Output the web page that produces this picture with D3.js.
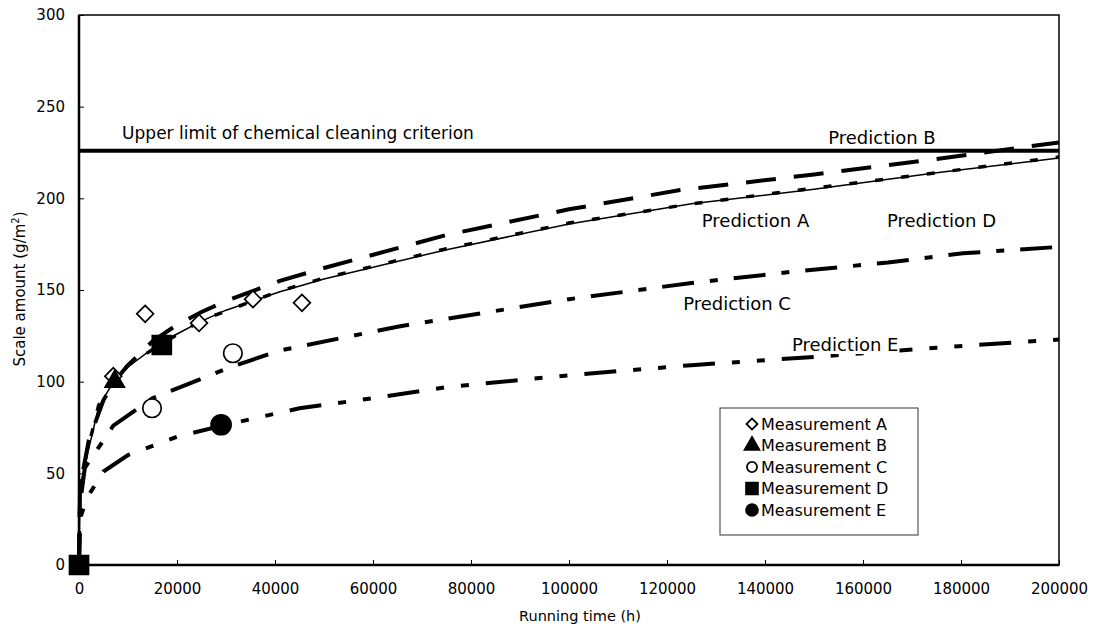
<!DOCTYPE html>
<html>
<head>
<meta charset="utf-8">
<script src="https://cdn.jsdelivr.net/npm/d3@7"></script>
<style>
  body { margin: 0; background: #fff; }
  text { font-family: "DejaVu Sans", sans-serif; fill: #000; }
</style>
</head>
<body>
<script>
// tick values
const xTicks = [0, 20000, 40000, 60000, 80000, 100000, 120000, 140000, 160000, 180000, 200000];
const yTicks = [0, 50, 100, 150, 200, 250, 300];

// prediction curves (running time h, scale g/m2)
const timeA = [0, 200, 500, 1500, 4000, 7000, 10000, 15000, 20000, 25000, 30000, 41000, 50000, 75000, 100000, 125000, 150000, 175000, 200000];
const predA = [0, 40, 46, 58, 86, 100, 108, 118, 126, 133, 139, 149, 156, 172, 186, 197, 205, 214, 222];

const timeB = [0, 200, 500, 2000, 5000, 7500, 10000, 15000, 20000, 25000, 30000, 41000, 50000, 75000, 100000, 122700, 150000, 175000, 200000];
const predB = [0, 41, 47, 68, 90, 101, 109, 122, 131, 138, 144, 155, 162, 180, 194, 204.5, 213, 221.5, 230.5];

const timeC = [0, 200, 1200, 7000, 15000, 31000, 41000, 65000, 100000, 125000, 145700, 165100, 180400, 200000];
const predC = [0, 33, 53, 76, 91, 108, 117, 130, 145, 153.8, 160, 165, 170, 173.5];

const timeD = [0, 200, 500, 1500, 4000, 7000, 10000, 16500, 25000, 41000, 50000, 75000, 100000, 125000, 150000, 175000, 200000];
const predD = [0, 40, 47, 60, 87, 101, 109, 120, 133.5, 149.5, 156.5, 172.5, 186.5, 197, 205.5, 214, 222.5];

const timeE = [0, 200, 1500, 5000, 10000, 20000, 30000, 45000, 60000, 75000, 100000, 125000, 150000, 175000, 200000];
const predE = [0, 25, 36, 51, 60, 70, 76.5, 85.5, 91, 97, 103.5, 109, 113.5, 118.5, 123];

// measurements
const measTimeA = [7000, 13500, 24500, 35500, 45500];
const measA = [103, 137, 132, 145, 143];
const measTimeB = [7300];
const measB = [100];
const measTimeC = [14900, 31400];
const measC = [85.5, 115.5];
const measTimeD = [0, 16900];
const measD = [0, 120];
const measTimeE = [29000];
const measE = [76.5];

const upperLimit = 226;

// text labels in data units
const labelNames = ["Prediction B", "Prediction A", "Prediction D", "Prediction C", "Prediction E"];
const labelTime = [152900, 127100, 164900, 123300, 145500];
const labelValue = [229.6, 184.4, 184.4, 139, 116.7];

const legendNames = ["Measurement A", "Measurement B", "Measurement C", "Measurement D", "Measurement E"];

// chart size
const width = 1101;
const height = 628;
const plotLeft = 79, plotRight = 1059, plotTop = 15, plotBottom = 565;

const xScale = d3.scaleLinear().domain([0, 200000]).range([plotLeft, plotRight]);
const yScale = d3.scaleLinear().domain([0, 300]).range([plotBottom, plotTop]);

const svg = d3.select("body")
    .append("svg")
    .attr("width", width)
    .attr("height", height);

// frame
svg.append("rect")
    .attr("x", plotLeft).attr("y", plotTop)
    .attr("width", plotRight - plotLeft).attr("height", plotBottom - plotTop)
    .attr("fill", "none").attr("stroke", "#000").attr("stroke-width", 1.5);

// axes, ticks pointing inward
const xAxis = svg.append("g")
    .attr("transform", "translate(0," + plotBottom + ")")
    .call(d3.axisBottom(xScale).tickValues(xTicks).tickSize(-5).tickPadding(18).tickFormat(d3.format("d")));
const yAxis = svg.append("g")
    .attr("transform", "translate(" + plotLeft + ",0)")
    .call(d3.axisLeft(yScale).tickValues(yTicks).tickSize(-5).tickPadding(14));

[xAxis, yAxis].forEach(g => {
    g.select(".domain").remove();
    g.selectAll("line").attr("stroke", "#000").attr("stroke-width", 1);
    g.selectAll("text").style("font-family", "DejaVu Sans").style("font-size", "15px").attr("fill", "#000");
});

svg.append("line")
    .attr("x1", plotLeft).attr("x2", plotLeft).attr("y1", plotTop).attr("y2", plotBottom)
    .attr("stroke", "#000").attr("stroke-width", 2.5);
svg.append("line")
    .attr("x1", plotLeft).attr("x2", plotRight).attr("y1", plotBottom).attr("y2", plotBottom)
    .attr("stroke", "#000").attr("stroke-width", 2.5);

// axis titles
svg.append("text")
    .attr("x", 580).attr("y", 621)
    .attr("text-anchor", "middle")
    .style("font-size", "14.5px")
    .text("Running time (h)");

const yTitle = svg.append("text")
    .attr("transform", "translate(25," + 289 + ") rotate(-90)")
    .attr("text-anchor", "middle")
    .style("font-size", "15px");
yTitle.append("tspan").text("Scale amount (g/m");
yTitle.append("tspan").attr("dy", -6).style("font-size", "10px").text("2");
yTitle.append("tspan").attr("dy", 6).text(")");

// upper limit
svg.append("line")
    .attr("x1", xScale(0)).attr("x2", xScale(200000))
    .attr("y1", yScale(upperLimit)).attr("y2", yScale(upperLimit))
    .attr("stroke", "#000").attr("stroke-width", 4);
svg.append("text")
    .attr("x", xScale(8800)).attr("y", yScale(232.4))
    .style("font-size", "17px")
    .text("Upper limit of chemical cleaning criterion");

// prediction lines
const line = d3.line().x(d => xScale(d[0])).y(d => yScale(d[1]));
const curves = [
    { t: timeE, v: predE, w: 4, dash: "32,17,8,17,8,17" },
    { t: timeC, v: predC, w: 4, dash: "32,16,8,16" },
    { t: timeB, v: predB, w: 4, dash: "30,18" },
    { t: timeA, v: predA, w: 1.5, dash: null },
    { t: timeD, v: predD, w: 3.5, dash: "8,18" }
];
curves.forEach(c => {
    svg.append("path")
        .datum(c.t.map((t, i) => [t, c.v[i]]))
        .attr("d", line)
        .attr("fill", "none")
        .attr("stroke", "#000")
        .attr("stroke-width", c.w)
        .attr("stroke-dasharray", c.dash);
});

// prediction labels, white box behind like the text boxes
const labels = svg.selectAll(".plabel")
    .data(labelNames)
    .enter()
    .append("g")
    .attr("class", "plabel");
labels.append("text")
    .attr("x", (d, i) => xScale(labelTime[i]))
    .attr("y", (d, i) => yScale(labelValue[i]))
    .style("font-size", "18px")
    .text(d => d);
labels.each(function() {
    const g = d3.select(this);
    const box = g.select("text").node().getBBox();
    g.insert("rect", "text")
        .attr("x", box.x - 1).attr("y", box.y + 1)
        .attr("width", box.width + 2).attr("height", box.height - 2)
        .attr("fill", "#fff");
});

// marker shapes
const markerDefs = [
    { type: d3.symbolSquare, size: 140, rot: 45, fill: "#fff" },
    { type: d3.symbolTriangle, size: 160, rot: 0, fill: "#000" },
    { type: d3.symbolCircle, size: 270, rot: 0, fill: "#fff" },
    { type: d3.symbolSquare, size: 360, rot: 0, fill: "#000" },
    { type: d3.symbolCircle, size: 314, rot: 0, fill: "#000" }
];
const measures = [
    [measTimeA, measA], [measTimeB, measB], [measTimeC, measC], [measTimeD, measD], [measTimeE, measE]
];
measures.forEach((m, k) => {
    const def = markerDefs[k];
    svg.selectAll(".m" + k)
        .data(m[0])
        .enter()
        .append("path")
        .attr("class", "m" + k)
        .attr("d", d3.symbol().type(def.type).size(def.size))
        .attr("transform", (d, i) => "translate(" + xScale(d) + "," + yScale(m[1][i]) + ") rotate(" + def.rot + ")")
        .attr("fill", def.fill)
        .attr("stroke", "#000")
        .attr("stroke-width", 1.7);
});

// legend
const legend = svg.append("g");
legend.append("rect")
    .attr("x", 720).attr("y", 408).attr("width", 198).attr("height", 127)
    .attr("fill", "#fff").attr("stroke", "#333").attr("stroke-width", 1);
const legendSizes = [60, 95, 80, 140, 110];
legendNames.forEach((name, k) => {
    const def = markerDefs[k];
    const yPos = 424 + k * 21.5;
    legend.append("path")
        .attr("d", d3.symbol().type(def.type).size(legendSizes[k]))
        .attr("transform", "translate(752," + yPos + ") rotate(" + def.rot + ")")
        .attr("fill", def.fill)
        .attr("stroke", "#000")
        .attr("stroke-width", 1.8);
    legend.append("text")
        .attr("x", 761).attr("y", yPos)
        .attr("dy", "0.36em")
        .style("font-size", "16px")
        .text(name);
});
</script>
</body>
</html>
